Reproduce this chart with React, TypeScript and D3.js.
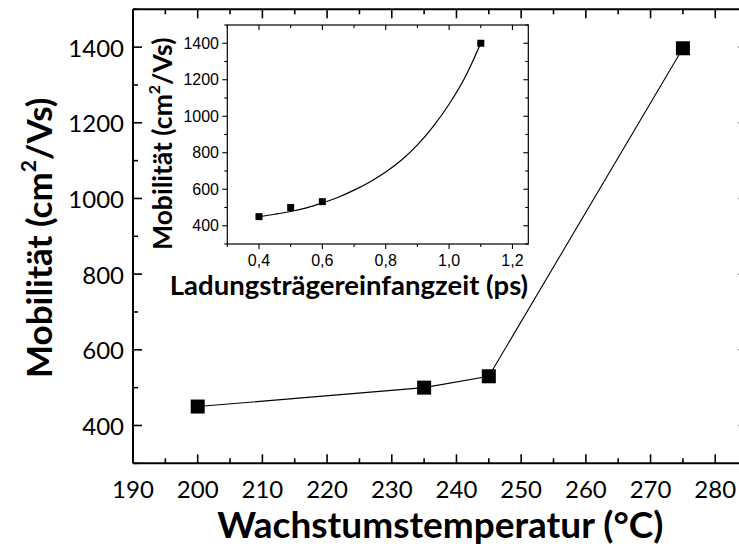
import React from "react";
import * as d3 from "d3";

// Main plot: mobility vs. growth temperature
const growthTemp = [200, 235, 245, 275];
const mobility = [450, 500, 530, 1397];

// Inset: mobility vs. carrier capture time
const captureTime = [0.4, 0.5, 0.6, 1.1];
const insetMobility = [450, 500, 532, 1400];

// Exponential fit curve through the inset points (sampled)
const fitTime = [0.4, 0.45, 0.5, 0.55, 0.6, 0.65, 0.7, 0.75, 0.8, 0.85, 0.9, 0.95, 1.0, 1.05, 1.1];
const fitMobility = [450, 463, 478, 498, 525, 556, 595, 640, 694, 760, 843, 945, 1066, 1212, 1400];

const mainXTicks = [190, 200, 210, 220, 230, 240, 250, 260, 270, 280];
const mainYTicks = [400, 600, 800, 1000, 1200, 1400];
const insetXTicks = [0.4, 0.6, 0.8, 1.0, 1.2];
const insetYTicks = [400, 600, 800, 1000, 1200, 1400];

const W = 739;
const H = 548;

const MAIN_FONT = "Lato, 'Open Sans', sans-serif";
const INSET_FONT = "'Liberation Sans', Arial, sans-serif";

export default function App() {
  // main scales
  const x = d3.scaleLinear().domain([190, 285]).range([133, 747.6]);
  const y = d3.scaleLinear().domain([300, 1500]).range([463.3, 9.3]);

  // inset scales
  const ix = d3.scaleLinear().domain([0.3, 1.25]).range([227.3, 528.3]);
  const iy = d3.scaleLinear().domain([300, 1500]).range([244, 25]);

  const mainLine = d3
    .line<number>()
    .x((_, i) => x(growthTemp[i]))
    .y((d) => y(d));

  const fitLine = d3
    .line<number>()
    .x((_, i) => ix(fitTime[i]))
    .y((d) => iy(d))
    .curve(d3.curveMonotoneX);

  const [x0, x1] = x.range();
  const [y0, y1] = y.range();
  const [ix0, ix1] = ix.range();
  const [iy0, iy1] = iy.range();

  const xMinor = d3.range(190, 286, 5);
  const yMinor = d3.range(300, 1501, 100);
  const ixMinor = d3.range(3, 13, 1).map((v) => v / 10);
  const iyMinor = d3.range(300, 1501, 100);

  const fmtComma = (v: number) => d3.format(".1f")(v).replace(".", ",");

  const MAJ = 9;
  const MIN = 5;
  const IMAJ = 5;
  const IMIN = 3;

  return (
    <svg
      width={W}
      height={H}
      style={{ position: "absolute", left: 0, top: 0, background: "#fff" }}
    >
      <rect x={0} y={0} width={W} height={H} fill="#fff" />

      {/* main frame */}
      <g stroke="#000" strokeWidth={2} fill="none">
        <line x1={x0} y1={y0} x2={x1} y2={y0} />
        <line x1={x0} y1={y1} x2={x1} y2={y1} />
        <line x1={x0} y1={y0} x2={x0} y2={y1} />
        <line x1={x1} y1={y0} x2={x1} y2={y1} />
      </g>

      {/* main ticks (inward, mirrored) */}
      <g stroke="#000" strokeWidth={1.6}>
        {xMinor.map((v) => {
          const len = v % 10 === 0 ? MAJ : MIN;
          return (
            <g key={"xt" + v}>
              <line x1={x(v)} x2={x(v)} y1={y0} y2={y0 - len} />
              <line x1={x(v)} x2={x(v)} y1={y1} y2={y1 + len} />
            </g>
          );
        })}
        {yMinor.map((v) => {
          const len = v % 200 === 0 ? MAJ : MIN;
          return (
            <g key={"yt" + v}>
              <line x1={x0} x2={x0 + len} y1={y(v)} y2={y(v)} />
              <line x1={x1} x2={x1 - len} y1={y(v)} y2={y(v)} />
            </g>
          );
        })}
      </g>

      {/* main tick labels */}
      <g fontFamily={MAIN_FONT} fontSize={24} fill="#000">
        {mainXTicks.map((v) => (
          <text key={"xl" + v} x={x(v)} y={498} textAnchor="middle">
            {v}
          </text>
        ))}
        {mainYTicks.map((v) => (
          <text
            key={"yl" + v}
            x={124}
            y={y(v)}
            textAnchor="end"
            dominantBaseline="central"
          >
            {v}
          </text>
        ))}
      </g>

      {/* main axis titles */}
      <text
        x={(x0 + x1) / 2}
        y={538}
        textAnchor="middle"
        fontFamily={MAIN_FONT}
        fontWeight="bold"
        fontSize={37}
      >
        Wachstumstemperatur (°C)
      </text>
      <text
        transform={`translate(52, 378) rotate(-90)`}
        textAnchor="start"
        fontFamily={MAIN_FONT}
        fontWeight="bold"
        fontSize={35}
      >
        Mobilität (cm
        <tspan fontSize={21} dy={-16}>
          2
        </tspan>
        <tspan dy={16}>/Vs)</tspan>
      </text>

      {/* main data */}
      <path d={mainLine(mobility) ?? ""} fill="none" stroke="#000" strokeWidth={1.1} />
      {mobility.map((v, i) => (
        <rect
          key={"m" + i}
          x={x(growthTemp[i]) - 7}
          y={y(v) - 7}
          width={14}
          height={14}
          fill="#000"
        />
      ))}

      {/* inset */}
      <rect
        x={ix0}
        y={iy1}
        width={ix1 - ix0}
        height={iy0 - iy1}
        fill="#fff"
        stroke="#000"
        strokeWidth={1.2}
      />
      <g stroke="#000" strokeWidth={1.1}>
        {ixMinor.map((v) => {
          const major = Math.round(v * 10) % 2 === 0;
          const len = major ? IMAJ : IMIN;
          return (
            <g key={"ixt" + v}>
              <line x1={ix(v)} x2={ix(v)} y1={iy0} y2={iy0 + len} />
              <line x1={ix(v)} x2={ix(v)} y1={iy1} y2={iy1 + len} />
            </g>
          );
        })}
        {iyMinor.map((v) => {
          const len = v % 200 === 0 ? IMAJ : IMIN;
          return (
            <g key={"iyt" + v}>
              <line x1={ix0} x2={ix0 - len} y1={iy(v)} y2={iy(v)} />
              <line x1={ix1} x2={ix1 - len} y1={iy(v)} y2={iy(v)} />
            </g>
          );
        })}
      </g>
      <g fontFamily={INSET_FONT} fontSize={16} fill="#000">
        {insetXTicks.map((v) => (
          <text key={"ixl" + v} x={ix(v)} y={266} textAnchor="middle">
            {fmtComma(v)}
          </text>
        ))}
        {insetYTicks.map((v) => (
          <text
            key={"iyl" + v}
            x={219}
            y={iy(v)}
            textAnchor="end"
            dominantBaseline="central"
          >
            {v}
          </text>
        ))}
      </g>
      <text
        x={349}
        y={295}
        textAnchor="middle"
        fontFamily={MAIN_FONT}
        fontWeight="bold"
        fontSize={27.5}
      >
        Ladungsträgereinfangzeit (ps)
      </text>
      <text
        transform={`translate(172, 250) rotate(-90)`}
        textAnchor="start"
        fontFamily={MAIN_FONT}
        fontWeight="bold"
        fontSize={26.5}
      >
        Mobilität (cm
        <tspan fontSize={16} dy={-12}>
          2
        </tspan>
        <tspan dy={12}>/Vs)</tspan>
      </text>

      <path d={fitLine(fitMobility) ?? ""} fill="none" stroke="#000" strokeWidth={1.2} />
      {insetMobility.map((v, i) => (
        <rect
          key={"im" + i}
          x={ix(captureTime[i]) - 3.5}
          y={iy(v) - 3.5}
          width={7}
          height={7}
          fill="#000"
        />
      ))}
    </svg>
  );
}
